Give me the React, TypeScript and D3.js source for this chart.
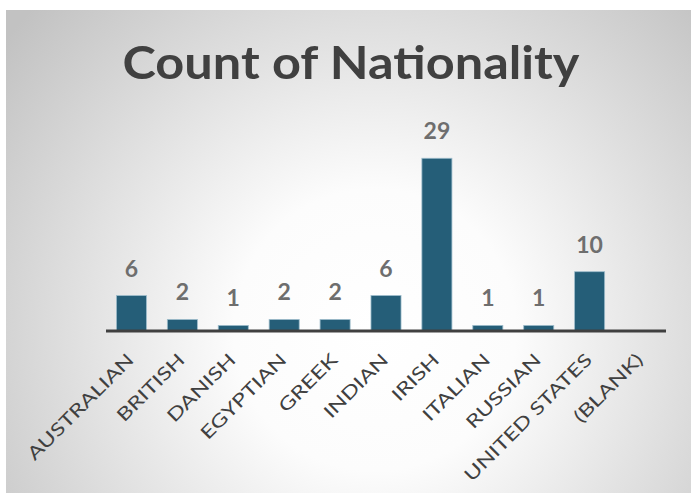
import { useEffect, useRef } from "react";
import * as d3 from "d3";

const categories = [
  "AUSTRALIAN", "BRITISH", "DANISH", "EGYPTIAN", "GREEK", "INDIAN",
  "IRISH", "ITALIAN", "RUSSIAN", "UNITED STATES", "(BLANK)",
];
const counts: (number | null)[] = [6, 2, 1, 2, 2, 6, 29, 1, 1, 10, null];
const title = "Count of Nationality";

const W = 691;
const H = 493;

export default function App() {
  const svgRef = useRef<SVGSVGElement>(null);

  useEffect(() => {
    if (!svgRef.current) return;
    const svg = d3.select(svgRef.current);
    svg.selectAll("*").remove();

    // radial grey background
    const defs = svg.append("defs");
    const grad = defs
      .append("radialGradient")
      .attr("id", "bg")
      .attr("gradientUnits", "userSpaceOnUse")
      .attr("cx", 375)
      .attr("cy", 330)
      .attr("r", 470);
    grad.append("stop").attr("offset", 0).attr("stop-color", "#ffffff");
    grad.append("stop").attr("offset", 0.3).attr("stop-color", "#fcfcfc");
    grad.append("stop").attr("offset", 1).attr("stop-color", "#c2c2c2");

    svg.append("rect")
      .attr("x", 6).attr("y", 10)
      .attr("width", W - 6).attr("height", H - 10)
      .attr("fill", "url(#bg)");

    // title
    svg.append("text")
      .attr("x", 351).attr("y", 79)
      .attr("text-anchor", "middle")
      .attr("font-family", "Lato, 'DejaVu Sans', sans-serif")
      .attr("font-weight", 700)
      .attr("font-size", 46)
      .attr("textLength", 457)
      .attr("lengthAdjust", "spacingAndGlyphs")
      .attr("fill", "#404040")
      .text(title);

    const x = d3.scaleBand<string>()
      .domain(categories)
      .range([106, 666])
      .paddingInner(0.41)
      .paddingOuter(0.205);

    const y = d3.scaleLinear().domain([0, 30]).range([331.4, 152.3]);

    const data = categories.map((c, i) => ({ c, v: counts[i] }));
    const withVal = data.filter((d) => d.v != null) as { c: string; v: number }[];

    // bars
    svg.append("g")
      .selectAll("rect")
      .data(withVal)
      .join("rect")
      .attr("x", (d) => x(d.c)!)
      .attr("y", (d) => y(d.v))
      .attr("width", x.bandwidth())
      .attr("height", (d) => y(0) - y(d.v))
      .attr("fill", "#255e78")
      .attr("stroke", "#9dbccb")
      .attr("stroke-width", 0.8);

    // axis line
    svg.append("line")
      .attr("x1", 106).attr("x2", 666)
      .attr("y1", 331).attr("y2", 331)
      .attr("stroke", "#404040")
      .attr("stroke-width", 3);

    // value labels
    svg.append("g")
      .selectAll("text")
      .data(withVal)
      .join("text")
      .attr("x", (d) => x(d.c)! + x.bandwidth() / 2)
      .attr("y", (d) => y(d.v) - 19)
      .attr("text-anchor", "middle")
      .attr("font-family", "Lato, 'DejaVu Sans', sans-serif")
      .attr("font-weight", 700)
      .attr("font-size", 23)
      .attr("fill", "#6e6e6e")
      .text((d) => String(d.v));

    // category labels, rotated
    svg.append("g")
      .selectAll("text")
      .data(categories)
      .join("text")
      .attr("transform", (d) =>
        `translate(${x(d)! + x.bandwidth() / 2 + 3.5},361) rotate(-45) scale(1.3,1)`)
      .attr("text-anchor", "end")
      .attr("font-family", "Lato, sans-serif")
      .attr("font-weight", 400)
      .attr("font-size", 18)
      .attr("fill", "#404040")
      .text((d) => d);
  }, []);

  return (
    <svg
      ref={svgRef}
      width={W}
      height={H}
      style={{ position: "absolute", left: 0, top: 0, display: "block" }}
    />
  );
}
